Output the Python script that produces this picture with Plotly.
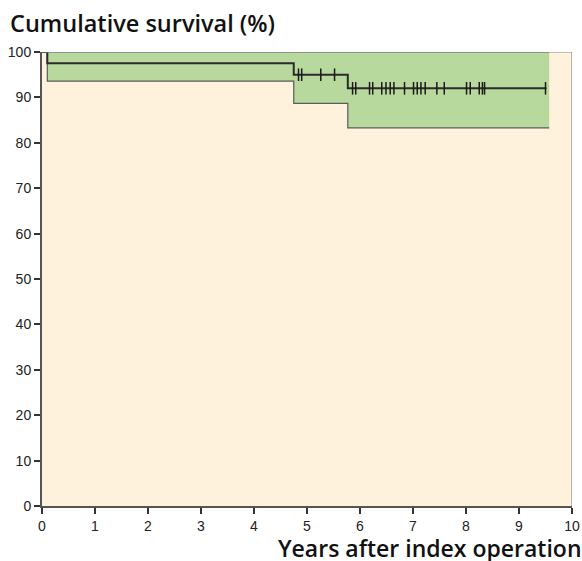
import plotly.graph_objects as go

# Kaplan-Meier step data (years, %)
step_times = [0.0, 0.10, 4.75, 5.77, 9.57]
survival = [100.0, 97.5, 95.0, 92.0, 92.0]
lower_ci = [100.0, 93.6, 88.7, 83.3, 83.3]
upper_ci = [100.0, 100.0, 100.0, 100.0, 100.0]

# Censored observations
censor_times = [4.84, 4.90, 5.26, 5.52,
                5.86, 5.92, 6.18, 6.24, 6.41, 6.49, 6.57, 6.64, 6.84,
                7.01, 7.08, 7.15, 7.23, 7.45, 7.59, 8.01, 8.08, 8.25,
                8.31, 8.35, 9.50]
censor_surv = [95.0, 95.0, 95.0, 95.0] + [92.0] * 21

x_ticks = list(range(0, 11))
y_ticks = list(range(0, 101, 10))

fig = go.Figure()

fig.add_trace(go.Scatter(x=step_times, y=upper_ci, mode="lines", line_shape="hv",
                         line=dict(color="#777777", width=1), hoverinfo="skip",
                         showlegend=False))
fig.add_trace(go.Scatter(x=step_times, y=lower_ci, mode="lines", line_shape="hv",
                         line=dict(color="#5a5a5a", width=1.2), fill="tonexty",
                         fillcolor="#b8d99e", showlegend=False))
fig.add_trace(go.Scatter(x=step_times[:-1] + [9.52], y=survival, mode="lines",
                         line_shape="hv", line=dict(color="#2b2b2b", width=2),
                         showlegend=False))
fig.add_trace(go.Scatter(x=censor_times, y=censor_surv, mode="markers",
                         marker=dict(symbol="line-ns-open", size=9, color="#1a1a1a",
                                     line=dict(color="#1a1a1a", width=1.5)),
                         showlegend=False))

font_family = "Liberation Sans, Arial, sans-serif"
title_family = "Open Sans, Liberation Sans, sans-serif"

fig.update_layout(
    width=582, height=561,
    margin=dict(l=42, r=10, t=52, b=55),
    paper_bgcolor="white",
    plot_bgcolor="#fef2dc",
    font=dict(family=font_family, color="#111111"),
    xaxis=dict(range=[0, 10], tickvals=x_ticks, ticks="outside", ticklen=6,
               tickwidth=2, tickcolor="#333333", showgrid=False, zeroline=False,
               showline=True, linecolor="#555555", linewidth=2, automargin=False,
               tickfont=dict(size=14, family=font_family, color="#222222")),
    yaxis=dict(range=[0, 100], tickvals=y_ticks, ticks="outside", ticklen=6,
               tickwidth=2, tickcolor="#333333", showgrid=False, zeroline=False,
               showline=True, linecolor="#555555", linewidth=2, automargin=False,
               tickfont=dict(size=14, family=font_family, color="#222222")),
    shapes=[
        dict(type="line", xref="x", yref="y", x0=0, x1=10, y0=100, y1=100,
             line=dict(color="#888888", width=1.2)),
        dict(type="line", xref="x", yref="y", x0=10, x1=10, y0=0, y1=100,
             line=dict(color="#888888", width=1.2)),
    ],
    annotations=[
        dict(text="Cumulative survival (%)", xref="paper", yref="paper",
             x=(8 - 42) / 530, y=(506 - 23) / 454, xanchor="left", yanchor="middle",
             showarrow=False,
             font=dict(size=23.5, family=title_family, weight=600, color="#111111")),
        dict(text="Years after index operation", xref="paper", yref="paper",
             x=1 + 12 / 530, y=(506 - 548) / 454, xanchor="right", yanchor="middle",
             showarrow=False,
             font=dict(size=23, family=title_family, weight=600, color="#111111")),
    ],
)

fig.write_html("out.html")
